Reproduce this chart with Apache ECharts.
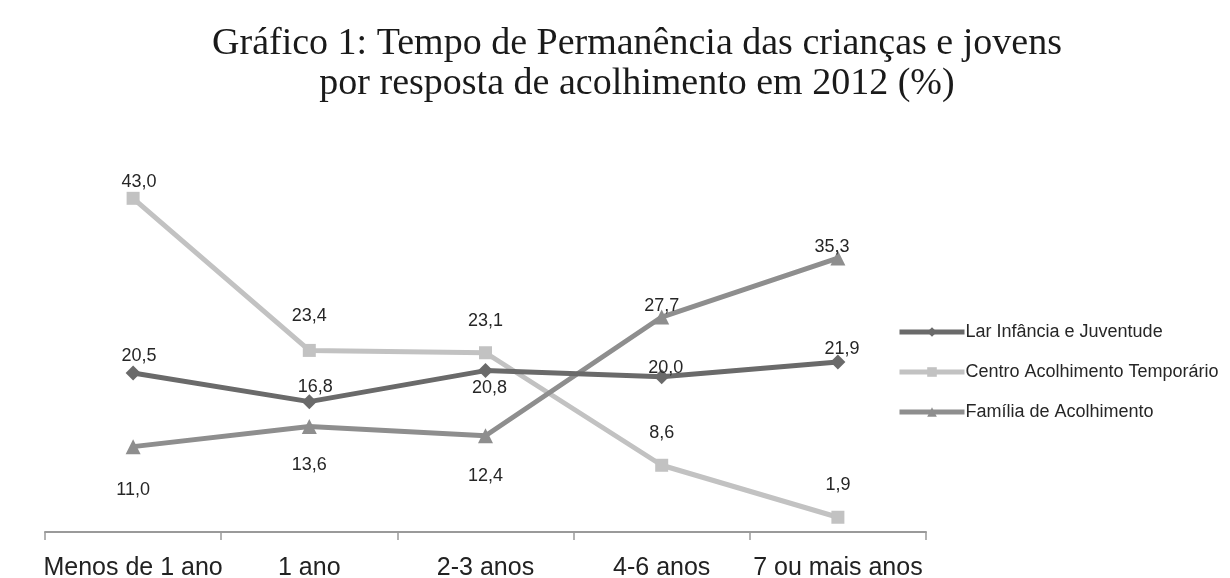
<!DOCTYPE html>
<html>
<head>
<meta charset="utf-8">
<script src="https://cdn.jsdelivr.net/npm/echarts@6/dist/echarts.min.js"></script>
<style>html,body{margin:0;padding:0;background:#fff}#c{width:1230px;height:578px}</style>
</head>
<body>
<div id="c"></div>
<script>
const categories = ['Menos de 1 ano', '1 ano', '2-3 anos', '4-6 anos', '7 ou mais anos'];
const seriesNames = ['Lar Infância e Juventude', 'Centro Acolhimento Temporário', 'Família de Acolhimento'];
const larValues = [20.5, 16.8, 20.8, 20.0, 21.9];
const centroValues = [43.0, 23.4, 23.1, 8.6, 1.9];
const familiaValues = [11.0, 13.6, 12.4, 27.7, 35.3];

// label offsets (styling only)
const larLabelOffsets = [[6, -17], [6, -15], [4, 17], [4, -9], [4, -13]];
const centroLabelOffsets = [[6, -16], [0, -34], [0, -32], [0, -32], [0, -32]];
const familiaLabelOffsets = [[0, 43], [0, 39], [0, 40], [0, -11], [-6, -11]];

function build(values, offsets) {
  return values.map((v, i) => ({
    value: v,
    label: { offset: offsets[i] }
  }));
}

const labelBase = {
  show: true,
  position: 'inside',
  color: '#262626',
  fontFamily: 'Liberation Sans, Arial, sans-serif',
  fontSize: 18,
  formatter: p => p.value.toFixed(1).replace('.', ',')
};

const chart = echarts.init(document.getElementById('c'), null, { renderer: 'canvas' });
chart.setOption({
  animation: false,
  title: {
    text: 'Gráfico 1: Tempo de Permanência das crianças e jovens\npor resposta de acolhimento em 2012 (%)',
    left: 632,
    textAlign: 'center',
    top: 19,
    textStyle: {
      fontFamily: 'Liberation Serif, Times New Roman, serif',
      fontWeight: 'normal',
      fontSize: 38,
      lineHeight: 40,
      color: '#1a1a1a'
    }
  },
  legend: {
    orient: 'vertical',
    left: 892,
    top: 318,
    itemGap: 22,
    itemWidth: 65,
    itemHeight: 12,
    lineStyle: { width: 5 },
    textStyle: {
      fontFamily: 'Liberation Sans, Arial, sans-serif',
      fontSize: 18,
      color: '#262626',
      padding: [0, 0, 0, -4]
    },
    data: seriesNames
  },
  grid: { left: 45, right: 304, top: 144, bottom: 46, outerBoundsMode: 'none', containLabel: false },
  xAxis: {
    type: 'category',
    data: categories,
    boundaryGap: true,
    axisLine: { lineStyle: { color: '#9a9a9a', width: 2 } },
    axisTick: { show: true, length: 8, lineStyle: { color: '#9a9a9a', width: 1.5 } },
    axisLabel: {
      interval: 0,
      fontFamily: 'Liberation Sans, Arial, sans-serif',
      fontSize: 25,
      color: '#222',
      margin: 24
    }
  },
  yAxis: {
    type: 'value',
    min: 0,
    max: 50,
    show: false,
    splitLine: { show: false }
  },
  series: [
    {
      name: seriesNames[0],
      type: 'line',
      data: build(larValues, larLabelOffsets),
      symbol: 'diamond',
      symbolSize: 15,
      lineStyle: { width: 5, color: '#6a6a6a' },
      itemStyle: { color: '#6a6a6a' },
      label: labelBase,
      z: 3
    },
    {
      name: seriesNames[1],
      type: 'line',
      data: build(centroValues, centroLabelOffsets),
      symbol: 'rect',
      symbolSize: 13,
      lineStyle: { width: 5, color: '#c2c2c2' },
      itemStyle: { color: '#c2c2c2' },
      label: labelBase,
      z: 2
    },
    {
      name: seriesNames[2],
      type: 'line',
      data: build(familiaValues, familiaLabelOffsets),
      symbol: 'triangle',
      symbolSize: 15,
      lineStyle: { width: 5, color: '#8e8e8e' },
      itemStyle: { color: '#8e8e8e' },
      label: labelBase,
      z: 2
    }
  ]
});
</script>
</body>
</html>
